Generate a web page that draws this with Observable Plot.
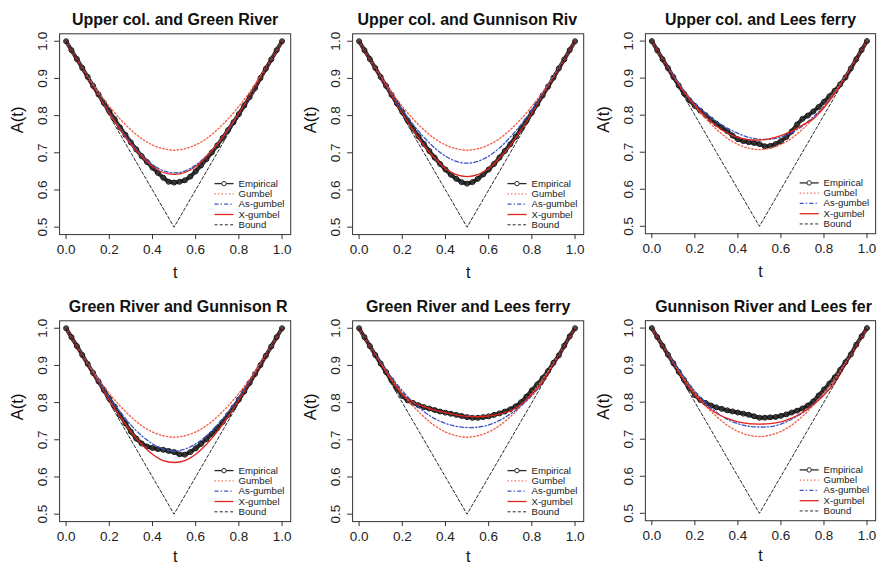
<!DOCTYPE html>
<html><head><meta charset="utf-8">
<script src="https://cdn.jsdelivr.net/npm/d3@7"></script>
<script src="https://cdn.jsdelivr.net/npm/@observablehq/plot@0.6"></script>
<style>
body{margin:0;background:#fff;}
#fig{position:relative;width:878px;height:565px;overflow:hidden;background:#fff;font-family:"Liberation Sans",Arial,Helvetica,sans-serif;}
.panel{position:absolute;}
#fig g[aria-label$="tick label"]{font-size:13.5px;}
</style></head><body><div id="fig"></div>
<script>
// ---------------- data ----------------
const titles = ["Upper col. and Green River","Upper col. and Gunnison Riv","Upper col. and Lees ferry",
                "Green River and Gunnison R","Green River and Lees ferry","Gunnison River and Lees fer"];
const legendLabels = ["Empirical","Gumbel","As-gumbel","X-gumbel","Bound"];
const xTicks = [0,0.2,0.4,0.6,0.8,1.0];
const yTicks = [0.5,0.6,0.7,0.8,0.9,1.0];

const tEmp = [0,0.025,0.05,0.075,0.1,0.125,0.15,0.175,0.2,0.225,0.25,0.275,0.3,0.325,0.35,0.375,0.4,0.425,0.45,0.475,0.5,
              0.525,0.55,0.575,0.6,0.625,0.65,0.675,0.7,0.725,0.75,0.775,0.8,0.825,0.85,0.875,0.9,0.925,0.95,0.975,1];
const tFit = [0,0.05,0.1,0.15,0.2,0.25,0.3,0.35,0.4,0.45,0.5,0.55,0.6,0.65,0.7,0.75,0.8,0.85,0.9,0.95,1];
const tBound = [0,0.5,1];
const bound = [1,0.5,1];
const gumbel = [1,.951,.906,.863,.825,.791,.762,.738,.721,.711,.707,.711,.721,.738,.762,.791,.825,.863,.906,.951,1];

const emp1 = [1,.976,.952,.928,.904,.880,.857,.834,.812,.790,.768,.748,.728,.709,.691,.675,.660,.646,.633,.622,.620,
              .622,.626,.636,.650,.666,.683,.701,.720,.740,.761,.782,.804,.827,.850,.874,.901,.926,.951,.976,1];
const emp2 = [1,.976,.952,.928,.904,.880,.856,.833,.810,.787,.765,.744,.724,.705,.687,.670,.655,.641,.630,.621,.617,
              .621,.630,.642,.655,.670,.687,.705,.723,.743,.764,.786,.808,.831,.854,.878,.902,.927,.951,.976,1];
const emp3 = [1,.975,.951,.927,.903,.880,.858,.840,.825,.812,.800,.788,.777,.767,.757,.745,.735,.730,.727,.725,.722,
              .716,.717,.722,.730,.741,.756,.775,.790,.799,.810,.822,.836,.851,.866,.883,.902,.926,.951,.976,1];
const emp4 = [1,.976,.952,.928,.904,.880,.857,.834,.811,.789,.766,.744,.722,.703,.690,.682,.678,.675,.673,.670,.667,
              .661,.660,.667,.677,.689,.702,.716,.731,.748,.767,.787,.808,.830,.853,.877,.901,.926,.951,.976,1];
const emp5 = [1,.976,.952,.928,.905,.882,.860,.838,.818,.806,.799,.793,.788,.784,.780,.776,.773,.770,.767,.764,.761,
              .759,.759,.761,.763,.767,.771,.776,.782,.790,.801,.816,.833,.849,.866,.885,.907,.927,.953,.978,1];
const emp6 = [1,.976,.952,.928,.905,.882,.860,.838,.819,.806,.798,.791,.786,.782,.778,.775,.772,.769,.766,.762,.758,
              .758,.759,.760,.763,.767,.772,.777,.783,.791,.802,.818,.834,.850,.867,.887,.908,.929,.955,.978,1];

const asg1 = [1,.951,.902,.854,.808,.766,.727,.694,.668,.652,.646,.651,.667,.692,.723,.760,.803,.850,.901,.951,1];
const asg2 = [1,.951,.903,.857,.815,.776,.742,.713,.691,.677,.672,.677,.691,.713,.742,.776,.815,.857,.903,.951,1];
const asg3 = [1,.952,.907,.866,.832,.805,.783,.765,.751,.740,.735,.735,.741,.753,.771,.795,.823,.858,.902,.951,1];
const asg4 = [1,.951,.903,.857,.814,.775,.740,.711,.689,.675,.670,.675,.689,.711,.740,.775,.814,.857,.903,.951,1];
const asg5 = [1,.952,.908,.868,.832,.801,.776,.757,.744,.736,.733,.734,.740,.752,.769,.791,.819,.853,.901,.951,1];
const asg6 = [1,.952,.908,.868,.830,.798,.773,.754,.742,.735,.733,.734,.741,.754,.771,.793,.820,.854,.901,.950,1];

const xg1 = [1,.950,.901,.852,.806,.763,.723,.690,.663,.647,.642,.647,.663,.690,.723,.763,.806,.852,.901,.950,1];
const xg2 = [1,.950,.901,.852,.805,.761,.720,.686,.658,.641,.636,.641,.658,.686,.720,.761,.805,.852,.901,.950,1];
const xg3 = [1,.951,.903,.862,.826,.796,.771,.752,.740,.734,.733,.737,.745,.757,.773,.790,.820,.858,.903,.951,1];
const xg4 = [1,.950,.901,.852,.806,.762,.722,.688,.661,.644,.639,.644,.661,.688,.722,.762,.806,.852,.901,.950,1];
const xg5 = [1,.951,.904,.860,.822,.801,.789,.780,.773,.767,.763,.762,.764,.769,.778,.795,.822,.855,.902,.951,1];
const xg6 = [1,.951,.903,.859,.819,.790,.770,.756,.747,.742,.741,.742,.747,.757,.772,.793,.819,.853,.901,.950,1];

const empirical = [emp1,emp2,emp3,emp4,emp5,emp6];
const asGumbel = [asg1,asg2,asg3,asg4,asg5,asg6];
const xGumbel = [xg1,xg2,xg3,xg4,xg5,xg6];

// ---------------- layout / style ----------------
const W = 293, H = 282, ML = 59.1, MR = 2.8, MT = 33.3, MB = 47.9;
const xDom = [-0.03, 1.04], yDom = [0.48, 1.02];
const colX = [0, 292.7, 586.1], rowY = [0, 286.6];
const titleLayout = [{anchor:"middle"},{anchor:"start",x:64},{anchor:"middle"},
                     {anchor:"start",x:68.3},{anchor:"middle"},{anchor:"start",x:68.9}];
const tLabelDy = [38, 35.5];
const lineStyle = {
  "Empirical": {stroke:"#2a2a2a", strokeWidth:1.3},
  "Gumbel":    {stroke:"#f4604a", strokeWidth:1.4, strokeDasharray:"1.3,2.3"},
  "As-gumbel": {stroke:"#3a55c6", strokeWidth:1.3, strokeDasharray:"4,2.2,1.3,2.2"},
  "X-gumbel":  {stroke:"#e2251c", strokeWidth:1.3},
  "Bound":     {stroke:"#111", strokeWidth:0.9, strokeDasharray:"3,2.2"}
};
const font = '"Liberation Sans",Arial,Helvetica,sans-serif';

function rows(ts, vs){ return ts.map((t,j)=>({t, v:vs[j]})); }

function panelPlot(i){
  const row = Math.floor(i/3);
  const xs = d3.scaleLinear(xDom, [ML, W-MR]);
  const ys = d3.scaleLinear(yDom, [H-MB, MT]);
  const empRows = rows(tEmp, empirical[i]);
  const curve = "catmull-rom";
  const tl = titleLayout[i];
  const tdy = 19 - MT + row*0.8;
  const titleMark = tl.anchor === "middle"
    ? Plot.text([titles[i]], {text:d=>d, frameAnchor:"top", lineAnchor:"middle", dy:tdy, fontSize:16, fontWeight:"bold", fill:"#111"})
    : Plot.text([titles[i]], {text:d=>d, frameAnchor:"top-left", lineAnchor:"middle", dx: tl.x-ML, dy:tdy, textAnchor:"start", fontSize:16, fontWeight:"bold", fill:"#111"});
  // legend (bottom-right, in pixels relative to the frame, converted through the scales)
  const right = W-MR, bottom = H-MB;
  const lx1 = xs.invert(right-76.2), lx2 = xs.invert(right-57.2), ltx = xs.invert(right-52.2);
  const legRows = legendLabels.map((lab,k)=>({label:lab, y: ys.invert(bottom-9.8-(4-k)*10.3)}));
  const legendMarks = [];
  legRows.forEach(r=>{
    legendMarks.push(Plot.link([r], {x1:()=>lx1, x2:()=>lx2, y1:"y", y2:"y", ...lineStyle[r.label]}));
  });
  legendMarks.push(Plot.dot([legRows[0]], {x:()=> (lx1+lx2)/2, y:"y", r:2.2, stroke:"#2a2a2a", strokeWidth:1, fill:"white"}));
  legendMarks.push(Plot.text(legRows, {x:()=>ltx, y:"y", text:"label", textAnchor:"start", fontSize:9.6, fill:"#222"}));

  return Plot.plot({
    width: W, height: H,
    marginLeft: ML, marginRight: MR, marginTop: MT, marginBottom: MB,
    x: {domain: xDom},
    y: {domain: yDom},
    style: {fontFamily: font, fontSize: "13.5px", overflow: "hidden", background: "white", color: "#222"},
    marks: [
      Plot.line(empRows, {x:"t", y:"v", stroke:"#333", strokeWidth:4}),
      Plot.dot(empRows, {x:"t", y:"v", r:2.5, stroke:"#111", strokeWidth:1, fill:"none"}),
      Plot.line(rows(tFit, gumbel), {x:"t", y:"v", curve, ...lineStyle["Gumbel"]}),
      Plot.line(rows(tFit, asGumbel[i]), {x:"t", y:"v", curve, ...lineStyle["As-gumbel"]}),
      Plot.line(rows(tFit, xGumbel[i]), {x:"t", y:"v", curve, ...lineStyle["X-gumbel"]}),
      Plot.line(rows(tBound, bound), {x:"t", y:"v", ...lineStyle["Bound"]}),
      Plot.frame({stroke:"#333", strokeWidth:1}),
      Plot.axisX({ticks:xTicks, tickFormat:d=>d.toFixed(1), tickSize:5, tickPadding:4.4, fontSize:13.5, label:null, stroke:"#333"}),
      Plot.axisY({ticks:yTicks, tickFormat:d=>d.toFixed(1), tickRotate:-90, tickSize:5, tickPadding:7.6, fontSize:13.5, label:null, stroke:"#333"}),
      Plot.text(["t"], {text:d=>d, frameAnchor:"bottom", lineAnchor:"middle", dy:tLabelDy[row], fontSize:16, fill:"#111"}),
      Plot.text(["A(t)"], {text:d=>d, frameAnchor:"left", lineAnchor:"middle", dx:-42, dy:-1, rotate:-90, fontSize:16.5, fill:"#111"}),
      titleMark,
      ...legendMarks
    ]
  });
}

const fig = document.getElementById("fig");
for (let i = 0; i < 6; i++){
  const div = document.createElement("div");
  div.className = "panel";
  div.style.left = colX[i%3] + "px";
  div.style.top = rowY[Math.floor(i/3)] + "px";
  div.appendChild(panelPlot(i));
  fig.appendChild(div);
}
</script>
</body></html>
